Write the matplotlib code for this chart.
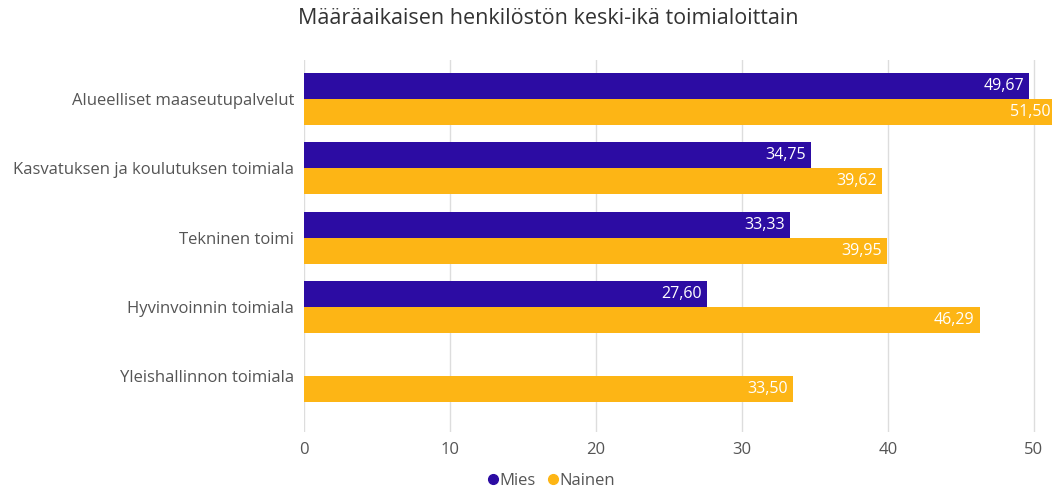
import numpy as np
import matplotlib
matplotlib.use("Agg")
import matplotlib.pyplot as plt
from matplotlib.lines import Line2D

# Data
categories = [
    "Alueelliset maaseutupalvelut",
    "Kasvatuksen ja koulutuksen toimiala",
    "Tekninen toimi",
    "Hyvinvoinnin toimiala",
    "Yleishallinnon toimiala",
]
mies = [49.67, 34.75, 33.33, 27.60, None]
nainen = [51.50, 39.62, 39.95, 46.29, 33.50]
series_names = ["Mies", "Nainen"]
colors = ["#2C0CA3", "#FDB515"]
title = "Määräaikaisen henkilöstön keski-ikä toimialoittain"

plt.rcParams["font.family"] = ["Open Sans", "DejaVu Sans"]

fig = plt.figure(figsize=(10.52, 4.92), dpi=100)
ax = fig.add_axes([0.289, 0.122, 0.711, 0.756])

y = np.arange(len(categories))
h = 0.375

def fmt(v):
    return f"{v:.2f}".replace(".", ",")

for i, (m, n) in enumerate(zip(mies, nainen)):
    if m is not None:
        ax.barh(y[i] - h / 2, m, height=h, color=colors[0], zorder=2)
        ax.text(m - 0.35, y[i] - h / 2, fmt(m), color="white", ha="right",
                va="center", fontsize=11.5, zorder=3)
    ax.barh(y[i] + h / 2, n, height=h, color=colors[1], zorder=2)
    ax.text(n - 0.35, y[i] + h / 2, fmt(n), color="white", ha="right",
            va="center", fontsize=11.5, zorder=3)

ax.set_xlim(0, 51.25)
ax.set_ylim(4.8, -0.56)
ax.set_xticks([0, 10, 20, 30, 40, 50])
ax.set_yticks(y)
ax.set_yticklabels(categories)
ax.grid(axis="x", color="#DDDDDD", linewidth=1, zorder=0)
ax.tick_params(axis="both", length=0, labelsize=12, colors="#555555")
ax.tick_params(axis="x", pad=7)
ax.tick_params(axis="y", pad=7)
for s in ax.spines.values():
    s.set_visible(False)

fig.text(0.521, 0.963, title, ha="center", va="center", fontsize=15.5, color="#333333")

handles = [Line2D([0], [0], marker="o", linestyle="", markersize=7,
                  markerfacecolor=c, markeredgecolor=c) for c in colors]
fig.legend(handles, series_names, loc="center", bbox_to_anchor=(0.522, 0.022),
           ncol=2, frameon=False, fontsize=12, handletextpad=-0.2,
           columnspacing=0.4, handlelength=1.2, labelcolor="#555555")

fig.savefig("out.png", dpi=100)
